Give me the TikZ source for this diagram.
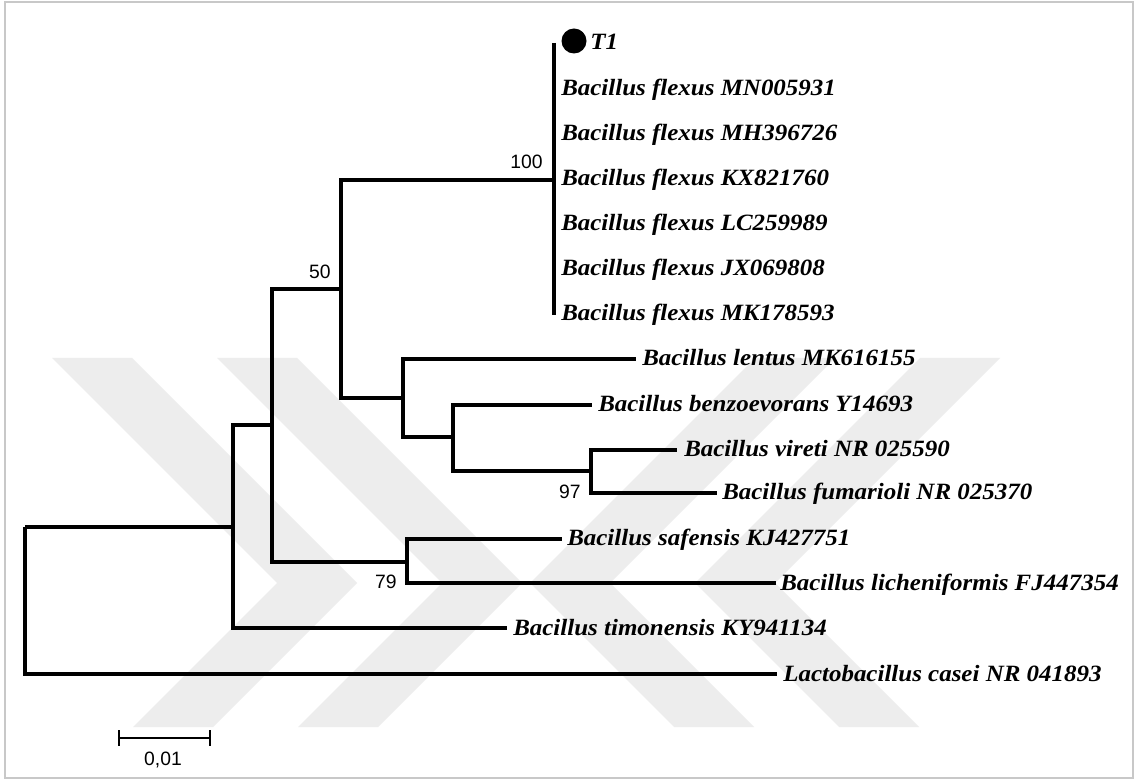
\documentclass[tikz,border=0pt]{standalone}
\usepackage{fontspec}
\setmainfont{Liberation Serif}
\newfontfamily\labfont[FakeStretch=1.07]{Liberation Serif}
\newfontfamily\numfont{Liberation Sans}
\definecolor{wm}{HTML}{EDEDED}
\definecolor{frame}{HTML}{C8C8C8}
\begin{document}
\begin{tikzpicture}[x=0.75pt,y=-0.75pt,
  br/.style={line width=2.5pt},
  leaf/.style={anchor=base west, inner sep=0pt, font=\labfont\bfseries\itshape\fontsize{17.5pt}{18pt}\selectfont},
  boot/.style={inner sep=0pt, font=\numfont\fontsize{14.5pt}{16pt}\selectfont},
  wmark/.style={fill=wm, draw=none}]
\useasboundingbox (0,0) rectangle (1136,780);
\fill[white] (0,0) rectangle (1136,780);
% watermark
\fill[wmark] (52,358) -- (132,358) -- (357,583) -- (213,727) -- (133,727) -- (277,583) -- cycle;
\fill[wmark] (217,358) -- (297,358) -- (522,583) -- (378,727) -- (298,727) -- (442,583) -- cycle;
\fill[wmark] (1000,358) -- (920,358) -- (695,583) -- (839,727) -- (919,727) -- (775,583) -- cycle;
\fill[wmark] (835,358) -- (755,358) -- (530,583) -- (674,727) -- (754,727) -- (610,583) -- cycle;
% frame
\draw[frame, line width=1.5pt] (5,2) rectangle (1133,778);
% internal nodes
\coordinate (R) at (25,527);
\coordinate (A) at (233,527);
\coordinate (B) at (272,425);
\coordinate (C) at (341,289);
\coordinate (FL) at (554,180);
\coordinate (FLt) at (554,43);
\coordinate (FLb) at (554,315);
\coordinate (D) at (403,398);
\coordinate (E) at (453,437);
\coordinate (F) at (591,471);
\coordinate (G) at (407,562);
% leaf ends
\coordinate (lentus) at (636,359);
\coordinate (benzo) at (592,405);
\coordinate (vireti) at (677,450);
\coordinate (fumar) at (717,493);
\coordinate (safen) at (562,539);
\coordinate (liche) at (776,583);
\coordinate (timon) at (507,628);
\coordinate (lacto) at (777,674);
\coordinate (Rb) at (25,674);
% branches
\draw[br] (FLt) -- (FLb);
\draw[br] (C) |- (FL);
\draw[br] (C) |- (D);
\draw[br] (D) |- (lentus);
\draw[br] (D) |- (E);
\draw[br] (E) |- (benzo);
\draw[br] (E) |- (F);
\draw[br] (F) |- (vireti);
\draw[br] (F) |- (fumar);
\draw[br] (B) |- (C);
\draw[br] (B) |- (G);
\draw[br] (G) |- (safen);
\draw[br] (G) |- (liche);
\draw[br] (A) |- (B);
\draw[br] (A) |- (timon);
\draw[br] (R) -- (A);
\draw[br] (R) -- (Rb) -- (lacto);
% T1 dot
\fill (574,41) circle[radius=12.5];
% labels
\node[leaf] (t1) at (590,50) {T1};
\node[leaf] (f1) at (561,96) {Bacillus flexus MN005931};
\node[leaf] (f2) at (561,141) {Bacillus flexus MH396726};
\node[leaf] (f3) at (561,186) {Bacillus flexus KX821760};
\node[leaf] (f4) at (561,231) {Bacillus flexus LC259989};
\node[leaf] (f5) at (561,276) {Bacillus flexus JX069808};
\node[leaf] (f6) at (561,321) {Bacillus flexus MK178593};
\node[leaf] (l1) at (642,366) {Bacillus lentus MK616155};
\node[leaf] (l2) at (598,412) {Bacillus benzoevorans Y14693};
\node[leaf] (l3) at (684,457) {Bacillus vireti NR 025590};
\node[leaf] (l4) at (722,500) {Bacillus fumarioli NR 025370};
\node[leaf] (l5) at (567,546) {Bacillus safensis KJ427751};
\node[leaf] (l6) at (780,590) {Bacillus licheniformis FJ447354};
\node[leaf] (l7) at (513,635) {Bacillus timonensis KY941134};
\node[leaf] (l8) at (783,681) {Lactobacillus casei NR 041893};
% bootstrap values
\node[boot, anchor=south east] (b100) at (543,169) {100};
\node[boot, anchor=south east] (b50) at (331,279) {50};
\node[boot, anchor=south east] (b97) at (581,499) {97};
\node[boot, anchor=south east] (b79) at (397,589) {79};
% scale bar
\coordinate (s1) at (119,738);
\coordinate (s2) at (210,738);
\draw[line width=1.1pt] (s1) -- (s2);
\draw[line width=1.1pt] (119,730) -- (119,746);
\draw[line width=1.1pt] (210,730) -- (210,746);
\node[boot, anchor=north] (sc) at (163,752) {0,01};
\end{tikzpicture}
\end{document}
